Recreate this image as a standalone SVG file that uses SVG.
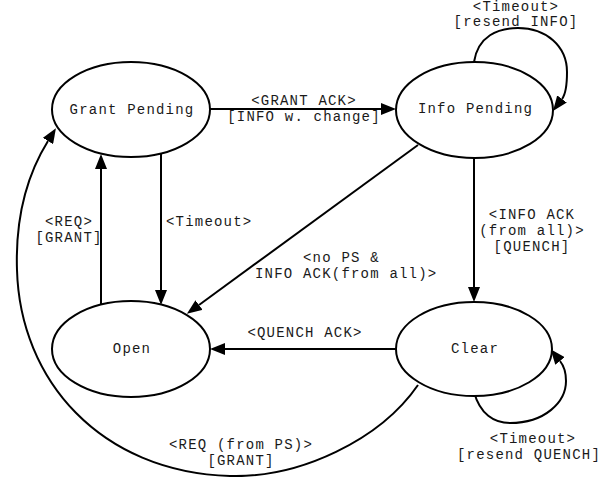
<svg xmlns="http://www.w3.org/2000/svg" width="615" height="477" viewBox="0 0 615 477">
  <style>
    .state ellipse { fill: #ffffff; stroke: #000000; stroke-width: 2; }
    text { font-family: "Liberation Mono", "Courier New", monospace; font-size: 14px; letter-spacing: 1.2px; fill: #1a1a1a; }
    .name { text-anchor: middle; }
    .lbl { text-anchor: middle; }
    .edge { fill: none; stroke: #000000; stroke-width: 2; marker-end: url(#head); }
  </style>
  <defs>
    <marker id="head" markerUnits="userSpaceOnUse" viewBox="0 0 15 12" refX="0" refY="6" markerWidth="15" markerHeight="12" orient="auto">
      <path d="M0,0 L15,6 L0,12 Z" fill="#000000"/>
    </marker>
  </defs>
  <rect width="615" height="477" fill="#ffffff"/>

  <g id="edges">
    <!-- Grant Pending -> Info Pending -->
    <path class="edge" d="M210,109 L381,109"/>
    <text class="lbl" x="304" y="105">&lt;GRANT ACK&gt;</text>
    <text class="lbl" x="304" y="121">[INFO w. change]</text>

    <!-- Info Pending self loop -->
    <path class="edge" d="M474,62 C478,36 498,28 518,28 C546,28 567,46 567,72 C567,82 566.5,93 562,99"/>
    <text class="lbl" x="516" y="11">&lt;Timeout&gt;</text>
    <text class="lbl" x="516" y="26">[resend INFO]</text>

    <!-- Grant Pending -> Open -->
    <path class="edge" d="M161,153 L161,290"/>
    <text x="166" y="226">&lt;Timeout&gt;</text>

    <!-- Open -> Grant Pending -->
    <path class="edge" d="M101,305 L101,169"/>
    <text class="lbl" x="69" y="226">&lt;REQ&gt;</text>
    <text class="lbl" x="69" y="242">[GRANT]</text>

    <!-- Info Pending -> Open -->
    <path class="edge" d="M418,145 L199,305"/>
    <text x="303" y="262">&lt;no PS &amp;</text>
    <text x="255" y="278">INFO ACK(from all)&gt;</text>

    <!-- Info Pending -> Clear -->
    <path class="edge" d="M474,158 L474,287"/>
    <text class="lbl" x="532" y="219">&lt;INFO ACK</text>
    <text class="lbl" x="532" y="235">(from all)&gt;</text>
    <text class="lbl" x="532" y="251">[QUENCH]</text>

    <!-- Clear -> Open -->
    <path class="edge" d="M396,349 L225,349"/>
    <text class="lbl" x="305" y="337">&lt;QUENCH ACK&gt;</text>

    <!-- Clear self loop -->
    <path class="edge" d="M474,392 C480,414 494,423 510,423 C545,423 566,402 566,381 C566,372 564,366 560,361"/>
    <text class="lbl" x="533" y="443">&lt;Timeout&gt;</text>
    <text class="lbl" x="529" y="459">[resend QUENCH]</text>

    <!-- Clear -> Grant Pending -->
    <path class="edge" d="M418,385 C380,440 300,478 230,476 C100,472 20,380 17,270 C15,210 30,170 48,141"/>
    <text class="lbl" x="241" y="449">&lt;REQ (from PS)&gt;</text>
    <text class="lbl" x="241" y="465">[GRANT]</text>
  </g>

  <g id="grant-pending" class="state">
    <ellipse cx="131" cy="109.5" rx="79" ry="47.5"/>
    <text class="name" x="132" y="114">Grant Pending</text>
  </g>
  <g id="info-pending" class="state">
    <ellipse cx="474.5" cy="110" rx="78.5" ry="48"/>
    <text class="name" x="475.5" y="113">Info Pending</text>
  </g>
  <g id="open" class="state">
    <ellipse cx="131" cy="349" rx="79" ry="48"/>
    <text class="name" x="132" y="353">Open</text>
  </g>
  <g id="clear" class="state">
    <ellipse cx="474" cy="349" rx="78" ry="47"/>
    <text class="name" x="475" y="353">Clear</text>
  </g>
</svg>
